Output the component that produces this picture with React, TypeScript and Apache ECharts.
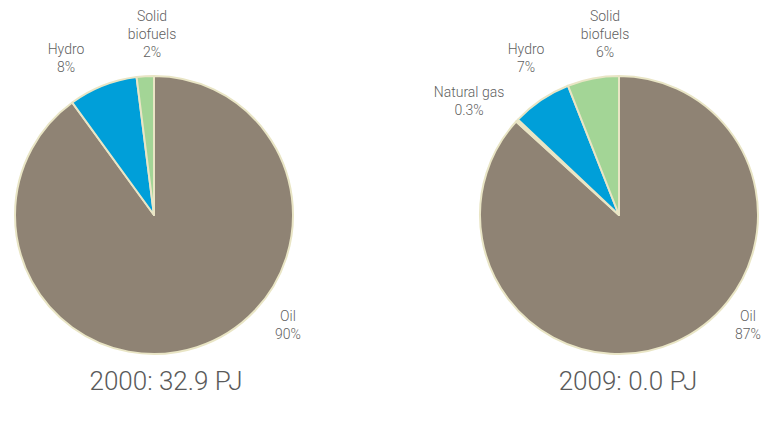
import React, { useEffect, useRef } from "react";
import * as echarts from "echarts";

const categories = ["Oil", "Natural gas", "Hydro", "Solid biofuels"];
const labelNames = ["Oil", "Natural gas", "Hydro", "Solid\nbiofuels"];
const values2000 = [90, 0, 8, 2];
const values2009 = [87, 0.3, 7, 6];
const titles = ["2000: 32.9 PJ", "2009: 0.0 PJ"];

const colors = ["#8f8374", "#ebe7c4", "#009fd9", "#a3d596"];
const borderColor = "#e9e5c5";

// label anchor positions (pixels) per category for each pie
const labelPos2000: Record<string, [number, number]> = {
  Oil: [288, 325],
  Hydro: [66, 58],
  "Solid biofuels": [152, 34],
};
const labelPos2009: Record<string, [number, number]> = {
  Oil: [748, 325],
  "Natural gas": [469, 101],
  Hydro: [526, 58],
  "Solid biofuels": [605, 34],
};

function buildData(values: number[]) {
  return categories
    .map((c, i) => ({
      name: c,
      value: values[i],
      itemStyle: { color: colors[i] },
    }))
    .filter((d) => d.value > 0);
}

function makeSeries(values: number[], center: [number, number]) {
  return {
    type: "pie",
    center,
    radius: 139,
    startAngle: 90,
    clockwise: true,
    data: buildData(values),
    itemStyle: { borderColor, borderWidth: 2 },
    label: { show: false },
    labelLine: { show: false },
    emphasis: { disabled: true },
  };
}

function makeLabels(values: number[], pos: Record<string, [number, number]>) {
  const out: any[] = [];
  categories.forEach((c, i) => {
    if (!(values[i] > 0) || !pos[c]) return;
    out.push({
      type: "text",
      x: pos[c][0],
      y: pos[c][1],
      style: {
        text: labelNames[i] + "\n" + values[i] + "%",
        fill: "#5f5f5f",
        font: "300 14px Roboto, sans-serif",
        lineHeight: 18,
        textAlign: "center",
        textVerticalAlign: "middle",
      },
    });
  });
  return out;
}

export default function App() {
  const ref = useRef<HTMLDivElement>(null);
  useEffect(() => {
    document.body.style.margin = "0";
    const chart = echarts.init(ref.current!, undefined, { renderer: "svg" });
    chart.setOption({
      animation: false,
      backgroundColor: "#ffffff",
      series: [
        makeSeries(values2000, [154, 215]),
        makeSeries(values2009, [619, 215]),
      ],
      graphic: [
        ...makeLabels(values2000, labelPos2000),
        ...makeLabels(values2009, labelPos2009),
        {
          type: "text",
          x: 166,
          y: 381,
          style: {
            text: titles[0],
            fill: "#5a5a5a",
            font: "300 26px Roboto, sans-serif",
            textAlign: "center",
            textVerticalAlign: "middle",
          },
        },
        {
          type: "text",
          x: 628,
          y: 381,
          style: {
            text: titles[1],
            fill: "#5a5a5a",
            font: "300 26px Roboto, sans-serif",
            textAlign: "center",
            textVerticalAlign: "middle",
          },
        },
      ],
    });
    return () => chart.dispose();
  }, []);
  return <div ref={ref} style={{ width: 767, height: 421 }} />;
}
